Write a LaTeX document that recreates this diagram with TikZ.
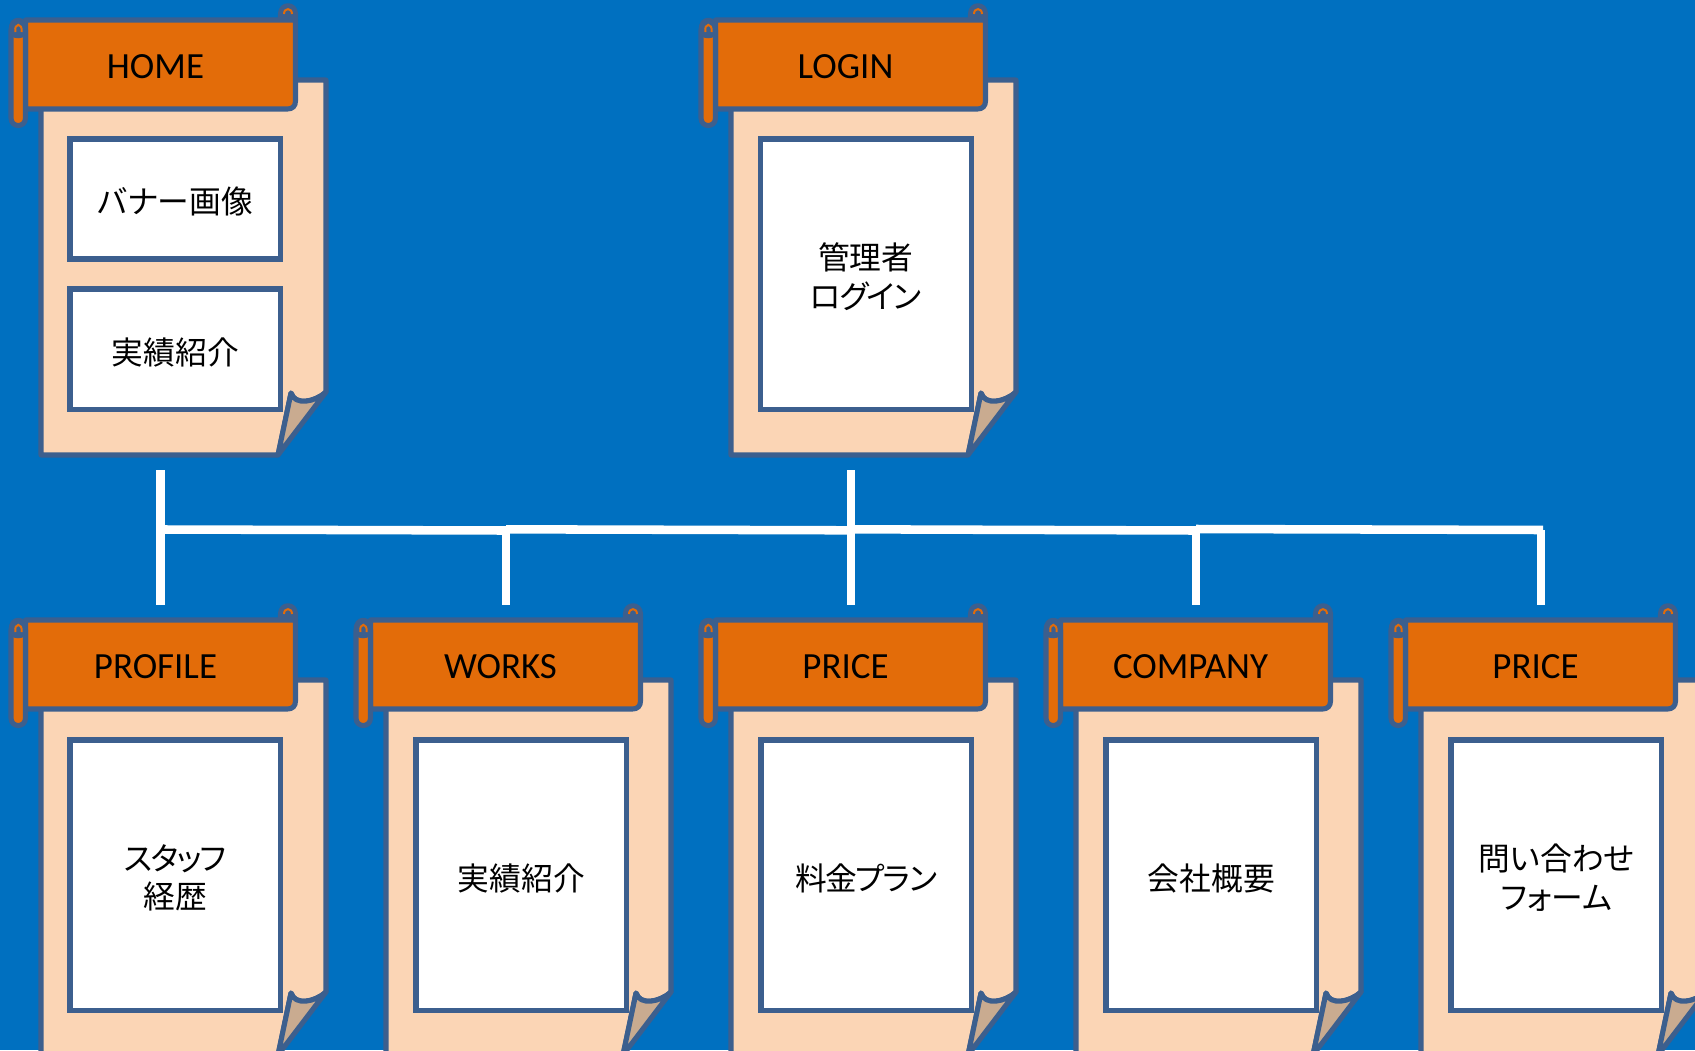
\documentclass[tikz,border=0pt]{standalone}
\usepackage{fontspec}
\setmainfont{Carlito}
\newfontfamily\cjkf[RawFeature={+palt}]{Noto Sans CJK JP}
\newfontfamily\cjktight[RawFeature={+palt},LetterSpace=-5]{Noto Sans CJK JP}
\definecolor{bgblue}{HTML}{0070C0}
\definecolor{edge}{HTML}{3C5F8E}
\definecolor{peach}{HTML}{FBD5B5}
\definecolor{fold}{HTML}{C9AB90}
\definecolor{band}{HTML}{E36C09}
\newcommand{\dn}[1]{\raisebox{-2pt}[\height][\depth]{#1}}
\newcommand{\dnt}[1]{\raisebox{-2pt}[\height][\depth]{\cjktight\fontsize{23.8pt}{29pt}\selectfont #1}}
\tikzset{
  x=0.75pt,y=-0.75pt,
  cardline/.style={draw=edge,line width=3.8pt,line join=round},
  whitebox/.style={rectangle,draw=edge,fill=white,line width=3.9pt,inner sep=0pt,outer sep=0pt,font=\cjkf\fontsize{23.8pt}{29pt}\selectfont,align=center,anchor=north west},
  titletext/.style={font=\fontsize{27.7pt}{30pt}\selectfont,text=black,inner sep=0pt},
  wire/.style={draw=white,line width=6.4pt}
}
\newcommand{\cardshape}[4]{%
  \begin{scope}[shift={(#2,#3)}]
    \path[cardline,fill=peach] (41,80) -- (326,80) -- (326,392)
      .. controls (315,402) and (295,406) .. (291,393) -- (278,455) -- (41,455) -- cycle;
    \path[cardline,fill=fold] (291,393) .. controls (295,406) and (315,402) .. (326,392) -- (278,455) -- cycle;
    % right curl
    \path[cardline,fill=edge] (280.5,20) -- (280.5,14) .. controls (280.5,3) and (295.5,3) .. (295.5,14) -- (295.5,20) -- cycle;
    \draw[band,line width=1.5pt] (284,14) .. controls (284,7.5) and (292,7.5) .. (292,14);
    % banner
    \path[cardline,fill=band] (25.5,20) -- (295.5,20) -- (295.5,101)
      .. controls (295.5,106) and (292.5,109) .. (287.5,109) -- (25.5,109) -- cycle;
    % left scroll
    \path[cardline,fill=band] (11,30) .. controls (11,17) and (25.5,17) .. (25.5,30)
      -- (25.5,118) .. controls (25.5,128) and (11,128) .. (11,118) -- cycle;
    \path[fill=edge] (11,36) -- (11,30) .. controls (11,17) and (25.5,17) .. (25.5,30) -- (25.5,36)
      .. controls (21,39) and (15,39) .. cycle;
    \draw[band,line width=1.5pt] (15.5,32) .. controls (13.5,22.5) and (23,22.5) .. (21.5,32);
    \node[titletext] (#1) at (155.5,66.5) {#4};
  \end{scope}%
}
\begin{document}
\begin{tikzpicture}
\fill[bgblue] (0,0) rectangle (1695,1050);
\clip (0,0) rectangle (1695,1050);

\cardshape{home}{0}{0}{HOME}
\cardshape{login}{690}{0}{LOGIN}
\cardshape{profile}{0}{600}{PROFILE}
\cardshape{works}{345}{600}{WORKS}
\cardshape{price}{690}{600}{PRICE}
\cardshape{company}{1035}{600}{COMPANY}
\cardshape{contact}{1380}{600}{PRICE}

\node[whitebox,minimum width=158pt,minimum height=90pt] (banner) at (70,139) {\dn{バナー画像}};
\node[whitebox,minimum width=158pt,minimum height=90.5pt] (results) at (70,289) {\dn{実績紹介}};
\node[whitebox,minimum width=158pt,minimum height=203pt] (admin) at (760.5,139) {\dn{管理者}\\\dnt{ログイン}};
\node[whitebox,minimum width=158pt,minimum height=203pt] (staff) at (70,740) {\dnt{スタッフ}\\\dn{経歴}};
\node[whitebox,minimum width=158pt,minimum height=203pt] (worksbox) at (416,740) {\dn{実績紹介}};
\node[whitebox,minimum width=158pt,minimum height=203pt] (plan) at (761,740) {\dnt{料金プラン}};
\node[whitebox,minimum width=158pt,minimum height=203pt] (about) at (1106,740) {\dn{会社概要}};
\node[whitebox,minimum width=158pt,minimum height=203pt] (form) at (1451,740) {\dn{問い合わせ}\\\dn{フォーム}};

\coordinate (a1) at (160.7,470);
\coordinate (a2) at (160.7,605);
\coordinate (b1) at (851,470);
\coordinate (b2) at (851,605);
\coordinate (w2) at (506,605);
\coordinate (c2) at (1196,605);
\coordinate (d1) at (1541,530);
\coordinate (d2) at (1541,605);
\coordinate (j0) at (165,529.5);
\coordinate (j1) at (506,530.5);
\coordinate (j1b) at (506,529.3);
\coordinate (j2) at (851,530.3);
\coordinate (j2b) at (851,529.3);
\coordinate (j3) at (1196,530.5);
\coordinate (j3b) at (1196,529);
\coordinate (j4) at (1543,530);
\draw[wire] (a1) -- (a2);
\draw[wire] (b1) -- (b2);
\draw[wire] (j1) -- (w2);
\draw[wire] (j3) -- (c2);
\draw[wire] (d1) -- (d2);
\draw[wire] (j0) -- (j1);
\draw[wire] (j1b) -- (j2);
\draw[wire] (j2b) -- (j3);
\draw[wire] (j3b) -- (j4);
\end{tikzpicture}
\end{document}
